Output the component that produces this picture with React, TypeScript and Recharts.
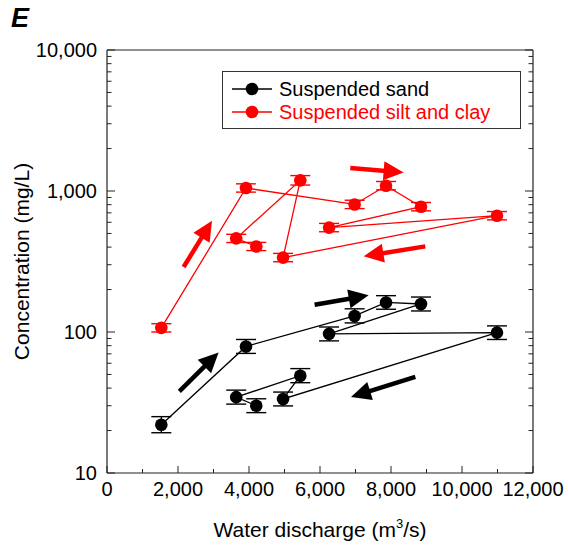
import React from 'react';
import {
  ScatterChart,
  Scatter,
  XAxis,
  YAxis,
  ErrorBar,
  ReferenceLine,
  Legend,
} from 'recharts';

// Sampling sequence: water discharge (m3/s), in the order the samples were taken
const discharge = [1530, 3915, 6975, 7860, 8845, 6255, 10985, 4960, 5445, 3640, 4205];

// Suspended sand concentration (mg/L) and its error [below, above]
const sand = [22, 79, 130, 162, 158, 97, 99, 33.5, 49, 34.5, 30];
const sandErr: [number, number][] = [
  [2.7, 3.1], [8.5, 9.5], [14, 16], [17, 19], [17, 19], [10.5, 11.5],
  [10.5, 11.5], [3.6, 4], [5.3, 6], [3.7, 4.2], [3.2, 3.6],
];

// Suspended silt and clay concentration (mg/L) and its error [below, above]
const silt = [107, 1050, 803, 1090, 774, 550, 668, 337, 1190, 461, 404];
const siltErr: [number, number][] = [
  [7, 7.5], [68, 74], [53, 57], [72, 78], [51, 55], [36, 39],
  [44, 47], [22, 24], [88, 96], [30, 32], [26, 28],
];

// Direction arrows along each loop: [tailQ, tailC, tipQ, tipC]
const siltArrows: [number, number, number, number][] = [
  [2158, 289, 2958, 615],
  [6853, 1455, 8355, 1355],
  [8966, 405, 7228, 344],
];
const sandArrows: [number, number, number, number][] = [
  [2037, 37.9, 3144, 71.6],
  [5848, 156, 7369, 182],
  [8685, 48, 6873, 34.6],
];

// Axis ticks
const xTicks = [0, 1000, 2000, 3000, 4000, 5000, 6000, 7000, 8000, 9000, 10000, 11000, 12000];
const decades = [10, 100, 1000, 10000];
const yTicks: number[] = [];
decades.forEach((d, i) => {
  if (i === decades.length - 1) {
    yTicks.push(d);
  } else {
    for (let m = 1; m <= 9; m++) yTicks.push(d * m);
  }
});

const sandData = discharge.map((q, i) => ({ q, c: sand[i], err: sandErr[i] }));
const siltData = discharge.map((q, i) => ({ q, c: silt[i], err: siltErr[i] }));

const FONT = '"Liberation Sans", Arial, Helvetica, sans-serif';
const RED = '#ff0000';
const AXIS = '#222';
const MARGIN = 10;

const fmt = (v: number) => v.toLocaleString('en-US');
const isDecade = (v: number) => decades.includes(v);

const BottomTick = (props: any) => {
  const { x, y, payload } = props;
  const major = payload.value % 2000 === 0;
  const ay = y - MARGIN;
  return (
    <g>
      <line x1={x} y1={ay} x2={x} y2={ay - (major ? 7 : 4)} stroke={AXIS} strokeWidth={1} />
      {major && (
        <text x={x} y={ay + 23} textAnchor="middle" fontSize={20} fontFamily={FONT} fill="#000">
          {fmt(payload.value)}
        </text>
      )}
    </g>
  );
};

const TopTick = (props: any) => {
  const { x, y, payload } = props;
  const major = payload.value % 2000 === 0;
  const ay = y + MARGIN;
  return <line x1={x} y1={ay} x2={x} y2={ay + (major ? 7 : 4)} stroke={AXIS} strokeWidth={1} />;
};

const LeftTick = (props: any) => {
  const { x, y, payload } = props;
  const major = isDecade(payload.value);
  const ax = x + MARGIN;
  return (
    <g>
      <line x1={ax} y1={y} x2={ax + (major ? 8 : 4.5)} y2={y} stroke={AXIS} strokeWidth={1} />
      {major && (
        <text x={ax - 10} y={y + 7} textAnchor="end" fontSize={20} fontFamily={FONT} fill="#000">
          {fmt(payload.value)}
        </text>
      )}
    </g>
  );
};

const RightTick = (props: any) => {
  const { x, y, payload } = props;
  const major = isDecade(payload.value);
  const ax = x - MARGIN;
  return <line x1={ax} y1={y} x2={ax - (major ? 8 : 4.5)} y2={y} stroke={AXIS} strokeWidth={1} />;
};

const arrowShape = (color: string) => (p: any) => {
  const { x1, y1, x2, y2 } = p;
  const dx = x2 - x1;
  const dy = y2 - y1;
  const len = Math.hypot(dx, dy) || 1;
  const ux = dx / len;
  const uy = dy / len;
  const hl = 20;
  const hw = 9.5;
  const bx = x2 - ux * hl;
  const by = y2 - uy * hl;
  const nx = -uy;
  const ny = ux;
  return (
    <g>
      <line x1={x1} y1={y1} x2={bx + ux * 2} y2={by + uy * 2} stroke={color} strokeWidth={4.5} />
      <polygon
        points={`${x2},${y2} ${bx + nx * hw},${by + ny * hw} ${bx - nx * hw},${by - ny * hw}`}
        fill={color}
      />
    </g>
  );
};

const Dot = (color: string) => (p: any) => <circle cx={p.cx} cy={p.cy} r={6.3} fill={color} />;

const LegendBox = () => {
  const rows = [
    { label: 'Suspended sand', color: '#000' },
    { label: 'Suspended silt and clay', color: RED },
  ];
  return (
    <div
      style={{
        width: 299,
        height: 58,
        boxSizing: 'border-box',
        border: '1px solid #333',
        background: '#fff',
        paddingTop: 6,
        fontFamily: FONT,
      }}
    >
      {rows.map((r) => (
        <div key={r.label} style={{ display: 'flex', alignItems: 'center', height: 22.5 }}>
          <svg width={56} height={18} style={{ flex: 'none' }}>
            <line x1={9} y1={9} x2={49} y2={9} stroke={r.color} strokeWidth={1.3} />
            <circle cx={29} cy={9} r={6.3} fill={r.color} />
          </svg>
          <div
            style={{
              fontSize: 20,
              color: r.color,
              lineHeight: '22px',
              whiteSpace: 'nowrap',
            }}
          >
            {r.label}
          </div>
        </div>
      ))}
    </div>
  );
};

const XTitle = (props: any) => {
  const { viewBox } = props;
  const cx = viewBox.x + viewBox.width / 2;
  return (
    <text x={cx} y={viewBox.y + 64} textAnchor="middle" fontSize={21} fontFamily={FONT} fill="#000">
      Water discharge (m
      <tspan fontSize={13} dy={-9}>3</tspan>
      <tspan dy={9}>/s)</tspan>
    </text>
  );
};

const YTitle = (props: any) => {
  const { viewBox } = props;
  const cy = viewBox.y + viewBox.height / 2;
  const x = 29;
  return (
    <text
      x={x}
      y={cy}
      transform={`rotate(-90, ${x}, ${cy})`}
      textAnchor="middle"
      fontSize={21}
      fontFamily={FONT}
      fill="#000"
    >
      Concentration (mg/L)
    </text>
  );
};

export default function App() {
  return (
    <div style={{ position: 'absolute', left: 0, top: 0, width: 569, height: 545, background: '#fff' }}>
      <div
        style={{
          position: 'absolute',
          left: 11,
          top: 3,
          fontFamily: FONT,
          fontWeight: 'bold',
          fontStyle: 'italic',
          fontSize: 27,
          zIndex: 2,
        }}
      >
        E
      </div>
      <ScatterChart width={569} height={545} margin={{ top: 49, right: 35, bottom: 42, left: 47 }}>
        <XAxis
          dataKey="q"
          type="number"
          domain={[0, 12000]}
          ticks={xTicks}
          interval={0}
          height={30}
          allowDataOverflow
          tickSize={0}
          tickMargin={MARGIN}
          tickLine={false}
          tick={BottomTick}
          axisLine={{ stroke: AXIS, strokeWidth: 1.2 }}
          label={<XTitle />}
        />
        <XAxis
          xAxisId="top"
          orientation="top"
          type="number"
          domain={[0, 12000]}
          ticks={xTicks}
          interval={0}
          height={1}
          allowDataOverflow
          tickSize={0}
          tickMargin={MARGIN}
          tickLine={false}
          tick={TopTick}
          axisLine={{ stroke: AXIS, strokeWidth: 1.2 }}
        />
        <YAxis
          dataKey="c"
          type="number"
          scale="log"
          domain={[10, 10000]}
          ticks={yTicks}
          interval={0}
          width={60}
          allowDataOverflow
          tickSize={0}
          tickMargin={MARGIN}
          tickLine={false}
          tick={LeftTick}
          axisLine={{ stroke: AXIS, strokeWidth: 1.2 }}
          label={<YTitle />}
        />
        <YAxis
          yAxisId="right"
          orientation="right"
          type="number"
          scale="log"
          domain={[10, 10000]}
          ticks={yTicks}
          interval={0}
          width={1}
          allowDataOverflow
          tickSize={0}
          tickMargin={MARGIN}
          tickLine={false}
          tick={RightTick}
          axisLine={{ stroke: AXIS, strokeWidth: 1.2 }}
        />
        <Legend
          layout="horizontal"
          verticalAlign="middle"
          align="center"
          content={<LegendBox />}
          wrapperStyle={{ left: 222, top: 71, width: 299, height: 58 }}
        />
        {siltArrows.map((a, i) => (
          <ReferenceLine
            key={`sa${i}`}
            segment={[{ x: a[0], y: a[1] }, { x: a[2], y: a[3] }]}
            shape={arrowShape(RED)}
            ifOverflow="visible"
          />
        ))}
        {sandArrows.map((a, i) => (
          <ReferenceLine
            key={`sd${i}`}
            segment={[{ x: a[0], y: a[1] }, { x: a[2], y: a[3] }]}
            shape={arrowShape('#000')}
            ifOverflow="visible"
          />
        ))}
        <Scatter
          name="Suspended silt and clay"
          data={siltData}
          line={{ stroke: RED, strokeWidth: 1.3 }}
          shape={Dot(RED)}
          isAnimationActive={false}
        >
          <ErrorBar dataKey="err" direction="y" width={10} stroke={RED} strokeWidth={1.4} />
        </Scatter>
        <Scatter
          name="Suspended sand"
          data={sandData}
          line={{ stroke: '#000', strokeWidth: 1.3 }}
          shape={Dot('#000')}
          isAnimationActive={false}
        >
          <ErrorBar dataKey="err" direction="y" width={10} stroke="#000" strokeWidth={1.4} />
        </Scatter>
      </ScatterChart>
    </div>
  );
}
